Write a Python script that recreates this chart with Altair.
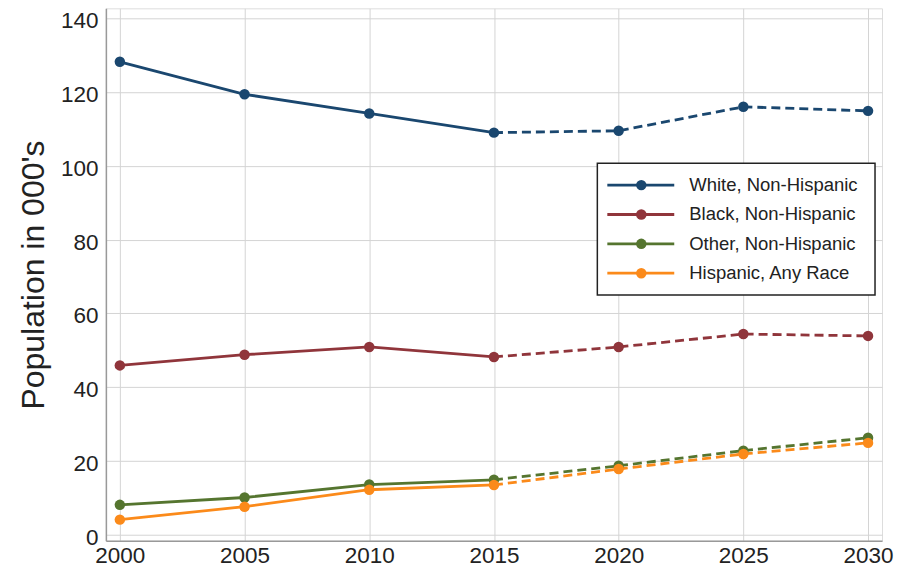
import altair as alt
import pandas as pd

years = [2000, 2005, 2010, 2015, 2020, 2025, 2030]
series = ["White, Non-Hispanic", "Black, Non-Hispanic", "Other, Non-Hispanic", "Hispanic, Any Race"]
white = [128.2, 119.4, 114.2, 109.0, 109.5, 116.0, 114.9]
black = [45.9, 48.8, 50.9, 48.2, 50.9, 54.4, 53.9]
other = [8.1, 10.1, 13.6, 14.9, 18.7, 22.8, 26.3]
hispanic = [4.1, 7.6, 12.2, 13.5, 17.8, 21.9, 24.9]
colors = ["#1a476f", "#90353b", "#55752f", "#fb8a1a"]
y_ticks = [0, 20, 40, 60, 80, 100, 120, 140]

rows = []
for s, vals in zip(series, [white, black, other, hispanic]):
    for yr, v in zip(years, vals):
        rows.append({"series": s, "year": yr, "pop": v})
df = pd.DataFrame(rows)
leg_df = pd.DataFrame({"series": series, "idx": list(range(len(series)))})

FONT = "Liberation Sans"

color = alt.Color("series:N", scale=alt.Scale(domain=series, range=colors), legend=None)

x = alt.X(
    "year:Q",
    scale=alt.Scale(domain=[1999.44, 2030.56], nice=False, zero=False),
    axis=alt.Axis(values=years, format="d", title=None, labelFontSize=22.5,
                  labelFont=FONT, labelColor="#222", ticks=False, labelPadding=4,
                  labelFlush=False, labelOverlap=False, grid=True, gridColor="#d4d4d4",
                  gridWidth=1, domainColor="#999", domainWidth=1.5),
)
y = alt.Y(
    "pop:Q",
    scale=alt.Scale(domain=[-1.62, 142.7], nice=False, zero=False),
    axis=alt.Axis(values=y_ticks, title="Population in 000's", titleFontSize=32,
                  titleFont=FONT, titleFontWeight="normal", titleColor="#222",
                  titlePadding=10, labelFontSize=22.5, labelFont=FONT, labelColor="#222",
                  labelOffset=2.5,
                  ticks=False, labelPadding=8, labelFlush=False, labelOverlap=False,
                  grid=True, gridColor="#d4d4d4", gridWidth=1,
                  domainColor="#999", domainWidth=1.5),
)

base = alt.Chart(df).encode(x=x, y=y, color=color)

solid = base.transform_filter("datum.year <= 2015").mark_line(strokeWidth=2.8)
dashed = base.transform_filter("datum.year >= 2015").mark_line(strokeWidth=2.8, strokeDash=[9, 5])
points = base.mark_point(filled=True, size=110, opacity=1)

# legend
box = alt.Chart(alt.Data(values=[{}])).mark_rect(
    fill="white", stroke="#222", strokeWidth=1.5
).encode(x=alt.value(492), x2=alt.value(770), y=alt.value(155), y2=alt.value(287))

leg_base = alt.Chart(leg_df).transform_calculate(ly="177 + datum.idx * 29.4")
leg_rule = leg_base.mark_rule(strokeWidth=2.8).encode(
    x=alt.value(502), x2=alt.value(569), y=alt.Y("ly:Q", scale=None), color=color
)
leg_pt = leg_base.mark_point(filled=True, size=110, opacity=1).encode(
    x=alt.value(536), y=alt.Y("ly:Q", scale=None), color=color
)
leg_txt = leg_base.mark_text(align="left", baseline="middle", fontSize=18.5, font=FONT, color="#222").encode(
    x=alt.value(584), y=alt.Y("ly:Q", scale=None), text="series:N"
)

chart = alt.layer(solid, dashed, points, box, leg_rule, leg_pt, leg_txt).properties(
    width=777, height=533,
    autosize=alt.AutoSizeParams(type="none"),
    padding={"left": 98, "top": 0, "right": 14, "bottom": 29},
).configure_view(stroke=None).configure(background="white")

chart.save("out.html", embed_options={"renderer": "svg", "actions": False})
